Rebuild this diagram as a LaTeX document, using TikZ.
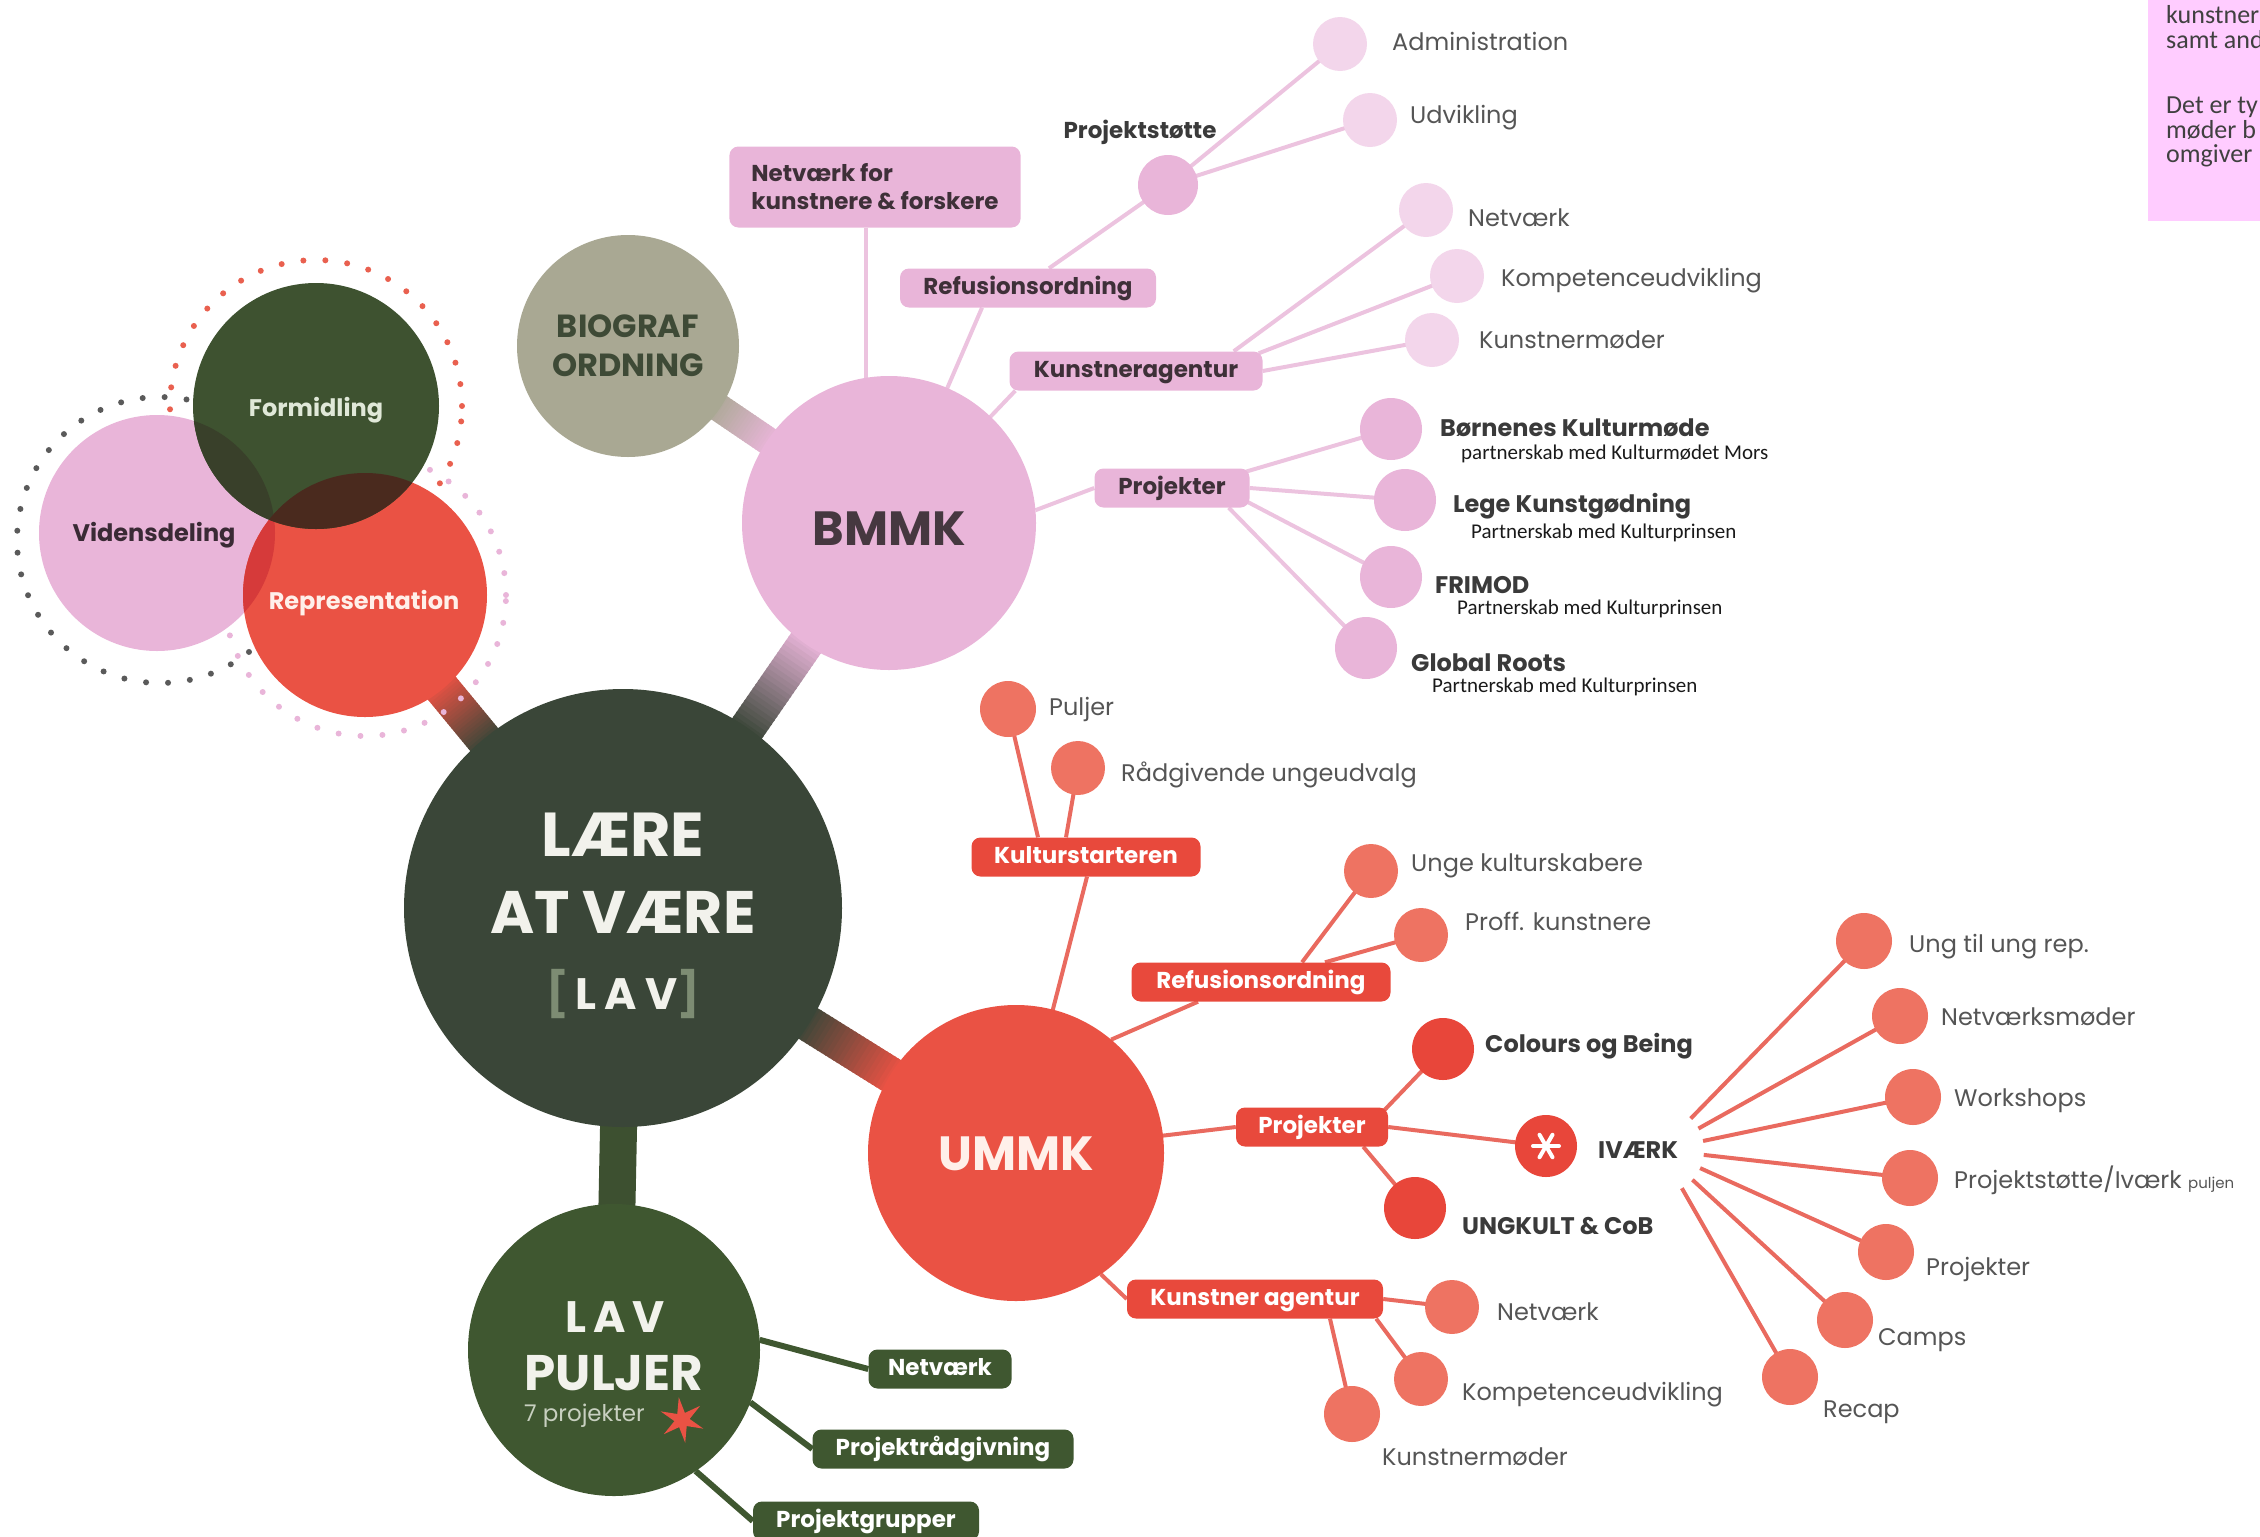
\documentclass[tikz,border=0pt]{standalone}
\usepackage{fontspec}
\setmainfont{Poppins}
\newfontfamily\calfont{Carlito}
\usetikzlibrary{calc,shapes.geometric}
\pgfdeclarelayer{bg}
\pgfsetlayers{bg,main}
\definecolor{pinkM}{HTML}{E9B5D9}
\definecolor{pinkL}{HTML}{F3D6EB}
\definecolor{pinkLine}{HTML}{ECC3DF}
\definecolor{redM}{HTML}{EA5244}
\definecolor{redBox}{HTML}{E8493C}
\definecolor{redDeep}{HTML}{E8463A}
\definecolor{salmon}{HTML}{EE7362}
\definecolor{redLine}{HTML}{E96A5F}
\definecolor{lavDark}{HTML}{3A4638}
\definecolor{greenM}{HTML}{3F5730}
\definecolor{greenF}{HTML}{3E5230}
\definecolor{greenBar}{HTML}{3D5030}
\definecolor{biog}{HTML}{A9A893}
\definecolor{biogTxt}{HTML}{3E4A36}
\definecolor{txtDark}{HTML}{3A3A3A}
\definecolor{txtGray}{HTML}{555555}
\definecolor{boxTxt}{HTML}{3E3038}
\definecolor{noteBg}{HTML}{FFCCFF}
\definecolor{noteTxt}{HTML}{404040}
\definecolor{dotGray}{HTML}{5A5A5A}
\definecolor{dotRed}{HTML}{E9604F}
\definecolor{colVR}{HTML}{D63A3A}
\definecolor{colVF}{HTML}{39402A}
\definecolor{colFR}{HTML}{4A2A1E}
\definecolor{bmmkTxt}{HTML}{463840}
\definecolor{ummkTxt}{HTML}{FFF0EA}
\definecolor{lavTxt}{HTML}{F2F2EC}
\definecolor{brk}{HTML}{7D8C73}
\definecolor{subTxt}{HTML}{1A1A1A}
\definecolor{projTxt}{HTML}{C8D0C0}
\definecolor{formTxt}{HTML}{E0E8D8}
\definecolor{vidTxt}{HTML}{3A2A35}
\newcommand\fsz[2]{\fontsize{#1}{#2}\selectfont}
\newcommand\gbar[7]{%
  \path ($(#1)!#3!(#2)$) coordinate (gA) ($(#2)!#4!(#1)$) coordinate (gB);
  \foreach \k in {0,...,23}{%
    \pgfmathsetmacro\pa{\k/24}%
    \pgfmathsetmacro\pb{(\k+1.4)/24}%
    \pgfmathtruncatemacro\mx{100-100*\k/23}%
    \draw[line width=#7, draw=#5!\mx!#6] ($(gA)!\pa!(gB)$) -- ($(gA)!\pb!(gB)$);
  }}
\tikzset{
  circ/.style={circle, inner sep=0pt, outer sep=0pt, minimum size=#1},
  boxbase/.style={rounded corners=9pt, inner xsep=6pt, inner ysep=0pt, minimum height=39pt, text height=16pt, text depth=4pt, font=\fsz{23}{27}\bfseries},
  pbox/.style={boxbase, fill=pinkM, text=boxTxt},
  rbox/.style={boxbase, fill=redBox, text=white},
  gbox/.style={boxbase, fill=greenM, text=white},
  nfbox/.style={rounded corners=9pt, fill=pinkM, text=boxTxt, align=left, inner xsep=22pt, inner ysep=0pt, minimum height=81pt, font=\fsz{23}{28}\bfseries},
  lbl/.style={anchor=west, inner sep=0pt, text height=17pt, text depth=0pt, font=\fsz{24}{28}, text=txtGray},
  blbl/.style={lbl, font=\fsz{24}{28}\bfseries, text=txtDark},
  subl/.style={anchor=west, inner sep=0pt, text height=13pt, text depth=0pt, font=\calfont\fsz{21}{25}, text=subTxt},
  notel/.style={anchor=west, inner sep=0pt, text height=16pt, text depth=0pt, font=\calfont\fsz{26}{30}, text=noteTxt},
  ctext/.style={inner sep=0pt, font=\fsz{24}{28}\bfseries},
  pline/.style={draw=pinkLine, line width=4pt},
  rline/.style={draw=redLine, line width=4pt},
  gline/.style={draw=greenM, line width=6pt},
  dots/.style={line width=6pt, line cap=round, dash pattern=on 0pt off 22pt},
}
\begin{document}
\begin{tikzpicture}[x=1pt,y=-1pt]
\useasboundingbox (0,0) rectangle (2260,1537);

% note box (cut by the right edge)
\begin{scope}
  \clip (0,0) rectangle (2260,1537);
  \fill[noteBg] (2148,-10) rectangle (2275,221);
  \node[notel] (n1) at (2166,15) {kunstner};
  \node[notel] (n2) at (2166,40) {samt and};
  \node[notel] (n3) at (2166,105) {Det er ty};
  \node[notel] (n4) at (2166,130) {møder b};
  \node[notel] (n5) at (2166,154) {omgiver};
\end{scope}

% dotted rings
\draw[dots, dotGray] (160,540) circle (143pt);
\draw[dots, dotRed] (316,406) circle (146pt);
\draw[dots, pinkM] (365,595) circle (141pt);

% left cluster
\node[circ=236pt, fill=pinkM] (vid) at (157,533) {};
\node[circ=244pt, fill=redM] (rep) at (365,595) {};
\node[circ=246pt, fill=greenF] (form) at (316,406) {};
\begin{scope}\clip (vid.center) circle (118pt); \fill[colVR] (rep.center) circle (122pt);\end{scope}
\begin{scope}\clip (vid.center) circle (118pt); \fill[colVF] (form.center) circle (123pt);\end{scope}
\begin{scope}\clip (rep.center) circle (122pt); \fill[colFR] (form.center) circle (123pt);\end{scope}
\node[ctext, text=formTxt] (tf) at (316,410) {Formidling};
\node[ctext, text=vidTxt] (tv) at (154,535) {Vidensdeling};
\node[ctext, text=ummkTxt] (tr) at (364,603) {Representation};

% main circles
\node[circ=222pt, fill=biog] (biog) at (628,346) {};
\node[circ=294pt, fill=pinkM] (bmmk) at (889,523) {};
\node[circ=438pt, fill=lavDark] (lav) at (623,908) {};
\node[circ=296pt, fill=redM] (ummk) at (1016,1153) {};
\node[circ=292pt, fill=greenM] (lavp) at (614,1350) {};

\node[font=\fsz{32}{39}\bfseries, text=biogTxt, align=center, inner sep=0pt] (biogT) at (628,346) {BIOGRAF\\ORDNING};
\node[font=\fsz{48}{56}\bfseries, text=bmmkTxt, inner sep=0pt] (bmmkT) at (889,529) {BMMK};
\node[font=\fsz{48}{56}\bfseries, text=ummkTxt, inner sep=0pt] (ummkT) at (1016,1154) {UMMK};
\node[font=\fsz{62}{70}\bfseries, text=lavTxt, inner sep=0pt] (l1) at (623,835) {LÆRE};
\node[font=\fsz{60}{70}\bfseries, text=lavTxt, inner sep=0pt] (l2) at (623,912) {AT VÆRE};
\node[font=\fsz{44}{50}\bfseries, text=lavTxt, inner sep=0pt] (l3) at (623,994) {{\color{brk}[}\,{\addfontfeatures{LetterSpace=18}LAV}{\color{brk}]}};
\node[font=\fsz{44}{50}\bfseries, text=lavTxt, inner sep=0pt] (p1) at (615,1317) {{\addfontfeatures{LetterSpace=15}LAV}};
\node[font=\fsz{50}{58}\bfseries, text=lavTxt, inner sep=0pt] (p2) at (614,1373) {PULJER};
\node[anchor=west, inner sep=0pt, font=\fsz{23}{27}, text=projTxt, text height=16pt, text depth=0pt] (p3) at (524,1413) {7 projekter};
\node[star, star points=6, star point ratio=3, fill=redM, minimum size=46pt, inner sep=0pt, rotate=8] (pstar) at (682,1420) {};

% BMMK branch
\node[nfbox] (nf) at (875,187) {Netværk for\\kunstnere \& forskere};
\node[pbox, minimum width=256pt] (ref1) at (1028,288) {Refusionsordning};
\node[pbox, minimum width=253pt] (ka1) at (1136,371) {Kunstneragentur};
\node[pbox, minimum width=155pt] (proj1) at (1172,488) {Projekter};

\node[circ=60pt, fill=pinkM] (ps) at (1168,185) {};
\node[blbl, anchor=center, font=\fsz{23}{27}\bfseries] (psL) at (1140,130) {Projektstøtte};
\node[circ=54pt, fill=pinkL] (adm) at (1340,44) {};
\node[lbl] (admL) at (1392,42) {Administration};
\node[circ=54pt, fill=pinkL] (udv) at (1370,120) {};
\node[lbl] (udvL) at (1410,115) {Udvikling};

\node[circ=54pt, fill=pinkL] (net1) at (1426,210) {};
\node[lbl] (net1L) at (1468,218) {Netværk};
\node[circ=54pt, fill=pinkL] (komp1) at (1457,276) {};
\node[lbl] (komp1L) at (1501,278) {Kompetenceudvikling};
\node[circ=54pt, fill=pinkL] (kmoe1) at (1432,340) {};
\node[lbl] (kmoe1L) at (1479,340) {Kunstnermøder};

\node[circ=62pt, fill=pinkM] (bk) at (1391,429) {};
\node[blbl] (bkL) at (1440,428) {Børnenes Kulturmøde};
\node[subl] (bkS) at (1461,453) {partnerskab med Kulturmødet Mors};
\node[circ=62pt, fill=pinkM] (lk) at (1405,500) {};
\node[blbl] (lkL) at (1453,504) {Lege Kunstgødning};
\node[subl] (lkS) at (1471,532) {Partnerskab med Kulturprinsen};
\node[circ=62pt, fill=pinkM] (fri) at (1391,577) {};
\node[blbl] (friL) at (1435,585) {FRIMOD};
\node[subl] (friS) at (1457,608) {Partnerskab med Kulturprinsen};
\node[circ=62pt, fill=pinkM] (gr) at (1366,648) {};
\node[blbl] (grL) at (1411,663) {Global Roots};
\node[subl] (grS) at (1432,686) {Partnerskab med Kulturprinsen};

% UMMK branch
\node[rbox, minimum width=229pt] (ks) at (1086,857) {Kulturstarteren};
\node[circ=56pt, fill=salmon] (pulj) at (1008,709) {};
\node[lbl] (puljL) at (1049,707) {Puljer};
\node[circ=54pt, fill=salmon] (radg) at (1078,768) {};
\node[lbl] (radgL) at (1121,773) {Rådgivende ungeudvalg};

\node[rbox, minimum width=259pt] (ref2) at (1261,982) {Refusionsordning};
\node[circ=54pt, fill=salmon] (unge) at (1371,871) {};
\node[lbl] (ungeL) at (1411,863) {Unge kulturskabere};
\node[circ=54pt, fill=salmon] (proff) at (1421,935) {};
\node[lbl] (proffL) at (1465,922) {Proff. kunstnere};

\node[rbox, minimum width=152pt] (proj2) at (1312,1127) {Projekter};
\node[circ=62pt, fill=redDeep] (cob) at (1443,1049) {};
\node[blbl] (cobL) at (1485,1044) {Colours og Being};
\node[circ=62pt, fill=redDeep] (iv) at (1546,1146) {};
\foreach \a in {0,60,120}
  \draw[white, line width=4pt, line cap=round] ($(iv.center)+(\a:13)$) -- ($(iv.center)+(\a+180:13)$);
\node[blbl] (ivL) at (1598,1150) {IVÆRK};
\node[circ=62pt, fill=redDeep] (ung) at (1415,1208) {};
\node[blbl] (ungL) at (1462,1226) {UNGKULT \& CoB};

\coordinate (ivc) at (1660,1150);
\node[circ=56pt, fill=salmon] (u2u) at (1864,941) {};
\node[lbl] (u2uL) at (1909,944) {Ung til ung rep.};
\node[circ=56pt, fill=salmon] (nm) at (1900,1016) {};
\node[lbl] (nmL) at (1941,1017) {Netværksmøder};
\node[circ=56pt, fill=salmon] (ws) at (1913,1097) {};
\node[lbl] (wsL) at (1954,1098) {Workshops};
\node[circ=56pt, fill=salmon] (pst) at (1910,1178) {};
\node[lbl] (pstL) at (1954,1180) {Projektstøtte/Iværk {\fsz{15}{18}puljen}};
\node[circ=56pt, fill=salmon] (pj) at (1886,1252) {};
\node[lbl] (pjL) at (1926,1267) {Projekter};
\node[circ=56pt, fill=salmon] (cmp) at (1845,1320) {};
\node[lbl] (cmpL) at (1878,1337) {Camps};
\node[circ=56pt, fill=salmon] (rcp) at (1790,1377) {};
\node[lbl] (rcpL) at (1823,1409) {Recap};

\node[rbox, minimum width=256pt] (ka2) at (1255,1299) {Kunstner agentur};
\node[circ=54pt, fill=salmon] (net2) at (1452,1307) {};
\node[lbl] (net2L) at (1497,1312) {Netværk};
\node[circ=54pt, fill=salmon] (komp2) at (1421,1379) {};
\node[lbl] (komp2L) at (1462,1392) {Kompetenceudvikling};
\node[circ=56pt, fill=salmon] (kmoe2) at (1352,1414) {};
\node[lbl] (kmoe2L) at (1382,1457) {Kunstnermøder};

% LAV PULJER boxes
\node[gbox, minimum width=143pt] (g1) at (940,1369) {Netværk};
\node[gbox, minimum width=261pt] (g2) at (943,1449) {Projektrådgivning};
\node[gbox, minimum width=226pt] (g3) at (866,1521) {Projektgrupper};

% connectors
\begin{pgfonlayer}{bg}
  \gbar{biog}{bmmk}{100pt}{140pt}{biog}{pinkM}{28pt}
  \gbar{bmmk}{lav}{140pt}{212pt}{pinkM}{lavDark}{36pt}
  \gbar{rep}{lav}{115pt}{212pt}{redM}{lavDark}{36pt}
  \gbar{lav}{ummk}{212pt}{141pt}{lavDark}{redM}{36pt}
  \draw[greenBar, line width=37pt] (lav.center) -- (lavp.center);

  \draw[pline] ($(nf.south)+(-9,0)$) -- ($(nf.south |- bmmk.center)+(-9,0)$);
  \draw[pline] (bmmk.center) -- ($(ref1.south)+(-46,0)$);
  \draw[pline] ($(ref1.north)+(21,0)$) -- (ps.center);
  \draw[pline] (ps.center) -- (adm.center);
  \draw[pline] (ps.center) -- (udv.center);
  \draw[pline] (bmmk.center) -- ($(ka1.south west)+(6,0)$);
  \draw[pline] ($(ka1.north east)+(-29,0)$) -- (net1.center);
  \draw[pline] ($(ka1.north east)+(-4,2)$) -- (komp1.center);
  \draw[pline] (ka1.east) -- (kmoe1.center);
  \draw[pline] (bmmk.5) -- (proj1.west);
  \draw[pline] ($(proj1.north east)+(-6,4)$) -- (bk.center);
  \draw[pline] (proj1.east) -- (lk.center);
  \draw[pline] ($(proj1.east)+(-2,14)$) -- (fri.center);
  \draw[pline] ($(proj1.south east)+(-21,0)$) -- (gr.center);

  \draw[rline] (ummk.center) -- ($(ks.south)+(1,0)$);
  \draw[rline] ($(ks.north)+(-48,0)$) -- (pulj.center);
  \draw[rline] ($(ks.north)+(-20,0)$) -- (radg.center);
  \draw[rline] (ummk.50) -- ($(ref2.south)+(-63,0)$);
  \draw[rline] ($(ref2.north)+(41,0)$) -- (unge.center);
  \draw[rline] ($(ref2.north)+(64,0)$) -- (proff.center);
  \draw[rline] (ummk.center) -- (proj2.west);
  \draw[rline] ($(proj2.north east)+(-4,3)$) -- (cob.center);
  \draw[rline] (proj2.east) -- (iv.center);
  \draw[rline] ($(proj2.south east)+(-25,0)$) -- (ung.center);
  \foreach \t in {u2u,nm,ws,pst,pj,cmp,rcp}
    \draw[rline] ($(ivc)!44pt!(\t.center)$) -- (\t.center);
  \draw[rline] (ummk.-55) -- (ka2.west);
  \draw[rline] (ka2.east) -- (net2.center);
  \draw[rline] ($(ka2.south east)+(-7,0)$) -- (komp2.center);
  \draw[rline] ($(ka2.south)+(75,0)$) -- (kmoe2.center);

  \draw[gline] (lavp.4) -- (g1.west);
  \draw[gline] (lavp.-21) -- (g2.west);
  \draw[gline] (lavp.-56) -- (g3.west);
\end{pgfonlayer}
\end{tikzpicture}
\end{document}
